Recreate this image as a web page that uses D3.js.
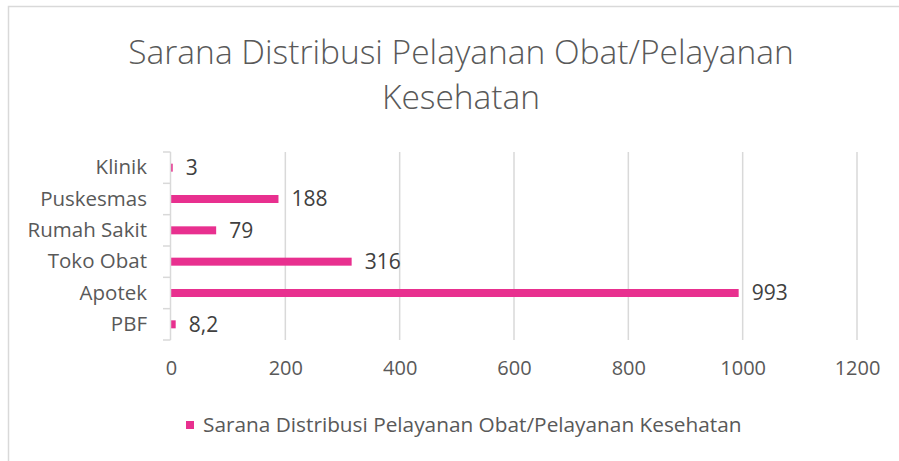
<!DOCTYPE html>
<html>
<head>
<meta charset="utf-8">
<script src="https://cdn.jsdelivr.net/npm/d3@7"></script>
<style>
  body { margin: 0; background: #fff; }
  text { font-family: "Open Sans", sans-serif; }
</style>
</head>
<body>
<div id="grafica"></div>
<script>
// Datos de la gráfica (de arriba hacia abajo)
const kategori = ["Klinik", "Puskesmas", "Rumah Sakit", "Toko Obat", "Apotek", "PBF"];
const nilai = [3, 188, 79, 316, 993, 8.2];
const labelNilai = ["3", "188", "79", "316", "993", "8,2"];
const ticksX = [0, 200, 400, 600, 800, 1000, 1200];
const judul = ["Sarana Distribusi Pelayanan Obat/Pelayanan", "Kesehatan"];
const namaSeri = "Sarana Distribusi Pelayanan Obat/Pelayanan Kesehatan";

const width = 899, height = 461;
const margin = {top: 152, right: 42, bottom: 121, left: 171};
const w = width - margin.left - margin.right;
const h = height - margin.top - margin.bottom;
const warnaBar = "#e8308f";
const abu = "#d9d9d9";
const fuente = "'Open Sans', sans-serif";

const svg = d3.select("#grafica").append("svg")
  .attr("width", width)
  .attr("height", height);

// Borde del área del gráfico
svg.append("path")
  .attr("d", "M8.5,461 L8.5,6.5 L899,6.5")
  .attr("fill", "none")
  .attr("stroke", abu)
  .attr("stroke-width", 1.5);

// Título
svg.append("g").selectAll("text")
  .data(judul)
  .enter().append("text")
  .attr("x", 461)
  .attr("y", function(d, i) { return 64 + i * 45; })
  .attr("text-anchor", "middle")
  .attr("font-size", 33.5)
  .attr("font-weight", 300)
  .attr("fill", "#595959")
  .text(function(d) { return d; });

const g = svg.append("g")
  .attr("transform", "translate(" + margin.left + "," + margin.top + ")");

const x = d3.scaleLinear().domain([0, 1200]).range([0, w]);
const y = d3.scaleBand().domain(kategori).range([0, h]);

// Líneas de la cuadrícula
g.selectAll(".grid")
  .data(ticksX.slice(1))
  .enter().append("line")
  .attr("x1", function(d) { return x(d); })
  .attr("x2", function(d) { return x(d); })
  .attr("y1", 0)
  .attr("y2", h)
  .attr("stroke", abu)
  .attr("stroke-width", 1.5);

// Eje x (solo etiquetas)
const ejeX = g.append("g")
  .attr("transform", "translate(0," + h + ")")
  .call(d3.axisBottom(x).tickValues(ticksX).tickSize(0).tickPadding(21).tickFormat(d3.format("d")));
ejeX.select(".domain").remove();
ejeX.selectAll("text")
  .attr("font-size", 20)
  .attr("fill", "#595959")
  .attr("font-family", fuente);

// Barras
g.selectAll(".bar")
  .data(kategori)
  .enter().append("rect")
  .attr("x", 0)
  .attr("y", function(d) { return y(d) + y.bandwidth() / 2 - 4; })
  .attr("width", function(d, i) { return x(nilai[i]); })
  .attr("height", 8)
  .attr("fill", warnaBar);

// Eje y
const ejeY = g.append("g")
  .call(d3.axisLeft(y).tickSize(0).tickPadding(24));
ejeY.select(".domain").attr("stroke", abu).attr("stroke-width", 1.5)
  .attr("d", "M-0.5,0V" + h);
ejeY.selectAll("text")
  .attr("font-size", 20.5)
  .attr("fill", "#595959")
  .attr("font-family", fuente);

// Marcas entre categorías
g.selectAll(".marca")
  .data(d3.range(kategori.length + 1))
  .enter().append("line")
  .attr("x1", -8)
  .attr("x2", -0.5)
  .attr("y1", function(d) { return d * y.step(); })
  .attr("y2", function(d) { return d * y.step(); })
  .attr("stroke", abu)
  .attr("stroke-width", 1.5);

// Etiquetas de datos
g.selectAll(".etiqueta")
  .data(kategori)
  .enter().append("text")
  .attr("x", function(d, i) { return x(nilai[i]) + 13; })
  .attr("y", function(d) { return y(d) + y.bandwidth() / 2; })
  .attr("dy", "0.35em")
  .attr("font-size", 21)
  .attr("fill", "#404040")
  .text(function(d, i) { return labelNilai[i]; });

// Leyenda
const leyenda = svg.append("g").attr("transform", "translate(186,425)");
leyenda.append("rect")
  .attr("x", 0).attr("y", -4)
  .attr("width", 8).attr("height", 8)
  .attr("fill", warnaBar);
leyenda.append("text")
  .attr("x", 17)
  .attr("y", 0)
  .attr("dy", "0.35em")
  .attr("font-size", 20.8)
  .attr("fill", "#595959")
  .text(namaSeri);
</script>
</body>
</html>
